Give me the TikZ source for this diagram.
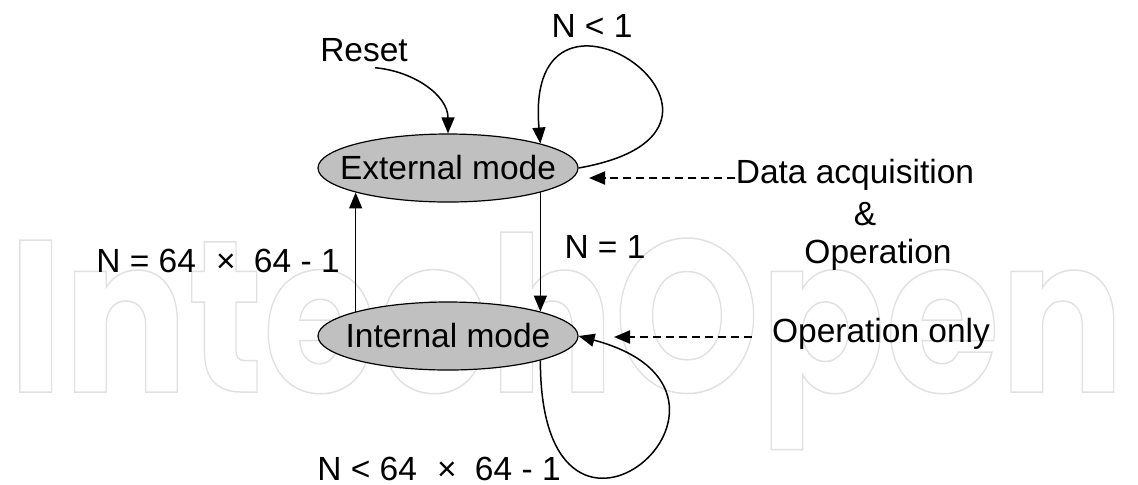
\documentclass[tikz,border=0pt]{standalone}
\usepackage{fontspec}
\setmainfont{Liberation Sans}
\newfontfamily\wmfont{Poppins}
\usetikzlibrary{arrows.meta,shapes.geometric,calc}
\definecolor{stategray}{HTML}{C0C0C0}
\definecolor{wmgray}{HTML}{E0E0E0}
\newcommand\lblfont{\fontsize{16.75pt}{20pt}\selectfont}
\begin{document}
\begin{tikzpicture}[x=0.5pt,y=-0.5pt,
  state/.style={ellipse, draw, line width=0.6pt, fill=stategray,
    minimum width=130pt, minimum height=34pt,
    inner xsep=-30pt, inner ysep=0pt, font=\lblfont},
  lbl/.style={anchor=base, inner sep=0pt, font=\lblfont},
  edge/.style={line width=0.75pt, -{Triangle[length=8pt,width=6.5pt]}},
  dashedge/.style={edge, line width=1pt, dash pattern=on 4pt off 2.5pt}]
\useasboundingbox (0,0) rectangle (1138,484);

% outlined watermark in the background
\node[anchor=base west, inner sep=0pt, text=wmgray] (wm) at (8,392)
  {\resizebox{558pt}{80pt}{\wmfont\bfseries\fontsize{100pt}{100pt}\selectfont
   \special{pdf:literal direct 1 Tr 0.7 w}IntechOpen\special{pdf:literal direct 0 Tr}}};

% states
\node[state] (ext) at (448,168) {External mode};
\node[state] (int) at (448,336) {Internal mode};

% labels
\node[lbl] (reset)  at (364,61)  {Reset};
\node[lbl] (nlt1)   at (592,37)  {N < 1};
\node[lbl] (daq)    at (855,183) {Data acquisition};
\node[lbl] (amp)    at (865,225) {\&};
\node[lbl] (op)     at (878,263) {Operation};
\node[lbl] (neq1)   at (605,258) {N = 1};
\node[lbl] (neqbig) at (218,272) {N = 64\hspace{0.6em}×\hspace{0.55em}64 - 1};
\node[lbl] (nltbig) at (439,480) {N < 64\hspace{0.6em}×\hspace{0.55em}64 - 1};
\node[lbl] (opo)    at (881,342) {Operation only};

\coordinate (extin) at (589,178);
\coordinate (intin) at (614,337);

% transitions
\draw[edge] ([shift={(5.5pt,-3pt)}]reset.south) to[out=-5,in=90] (ext.north);
\draw[edge] (ext.east) to[out=10,in=95,out distance=110pt,in distance=102.5pt] (ext.north east);
\draw[edge] (ext.south east) -- (int.north east);
\draw[edge] (int.north west) -- (ext.south west);
\draw[edge] (int.south east) to[out=-90,in=-15,out distance=125pt,in distance=110pt] (int.east);

% input annotations
\draw[dashedge] ([yshift=2.5pt]daq.base west) -- (extin);
\draw[dashedge] ([shift={(-10pt,2.5pt)}]opo.base west) -- (intin);
\end{tikzpicture}
\end{document}
